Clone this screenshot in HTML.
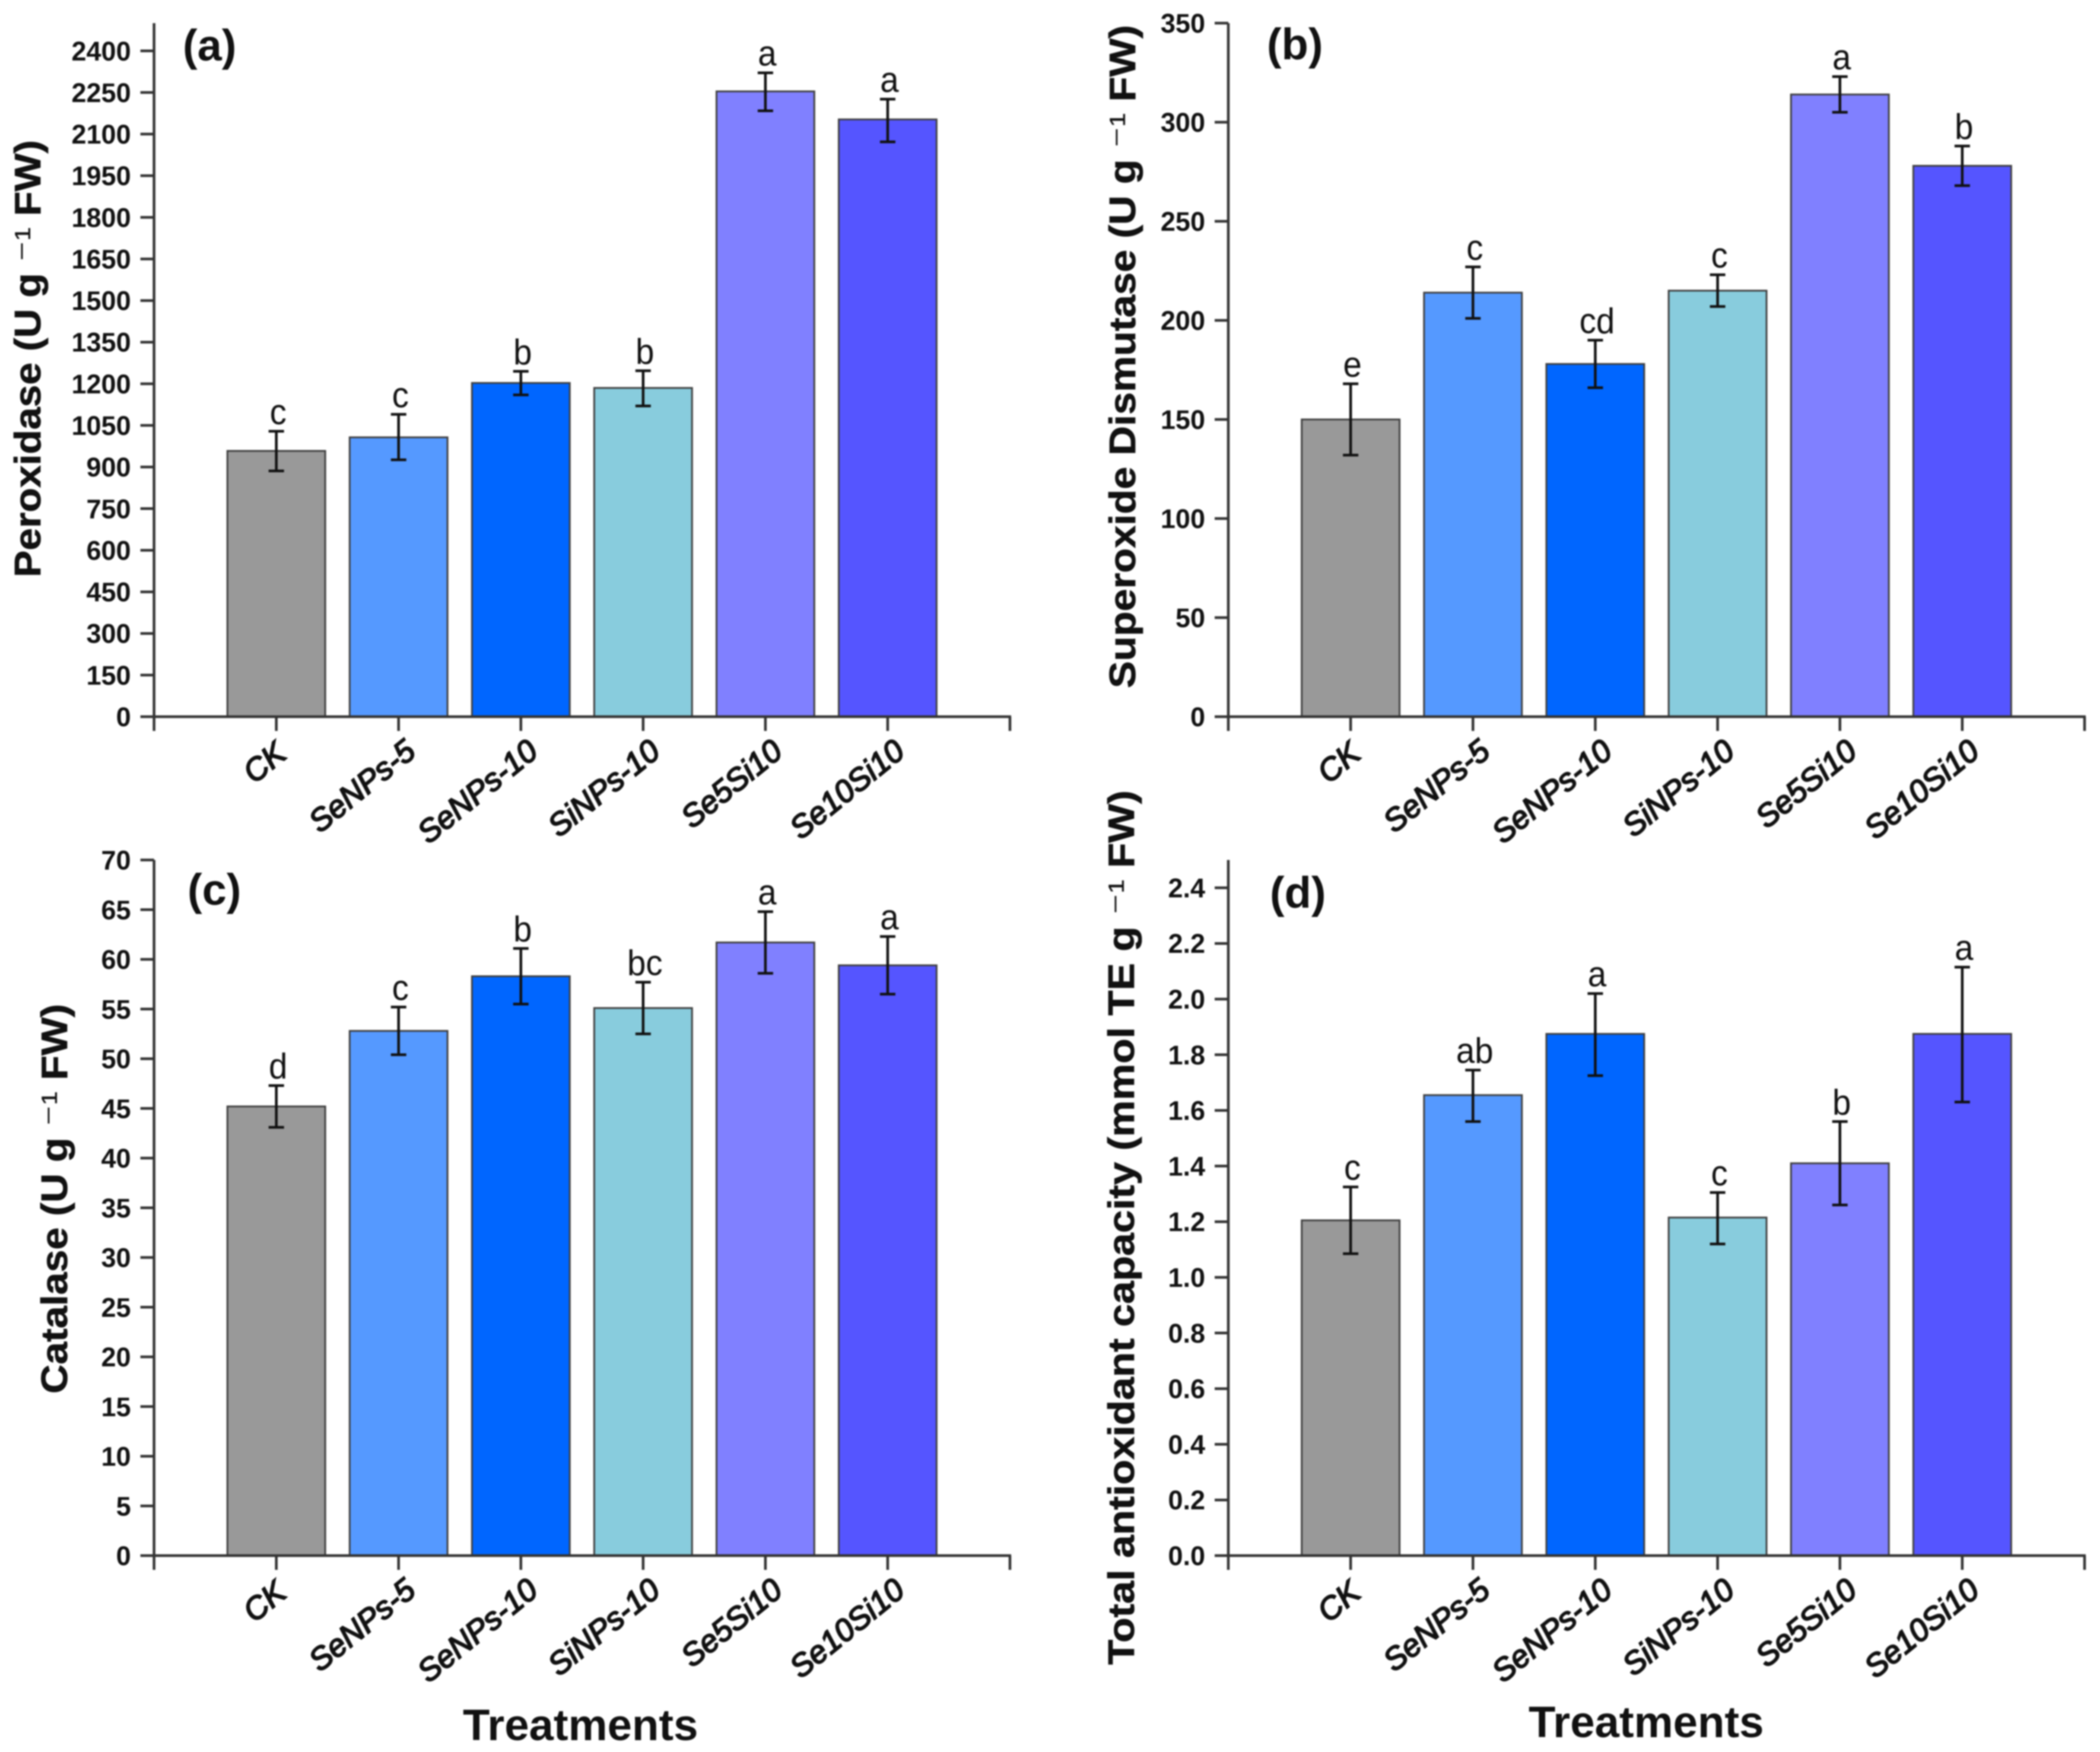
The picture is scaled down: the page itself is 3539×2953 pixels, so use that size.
<!DOCTYPE html>
<html lang="en">
<head>
<meta charset="utf-8">
<title>Antioxidant enzyme activity by treatment</title>
<style>
html,body{margin:0;padding:0;background:#fff;}
svg{display:block;font-family:"Liberation Sans",Arial,sans-serif;}
</style>
</head>
<body>
<svg id="figure" xmlns="http://www.w3.org/2000/svg" width="3539" height="2953" viewBox="0 0 3539 2953">
<rect x="0" y="0" width="3539" height="2953" fill="#ffffff"/>
<g id="root" style="filter:blur(1.2px)"></g>
</svg>
<script>
const categories = ["CK", "SeNPs-5", "SeNPs-10", "SiNPs-10", "Se5Si10", "Se10Si10"];
const barColors = ["#999999", "#5599ff", "#0066ff", "#88ccdd", "#8080ff", "#5555ff"];

const podValues = [958, 1007, 1203, 1185, 2254, 2153];
const podHigh = [1029, 1090, 1245, 1247, 2321, 2226];
const podLow = [886, 926, 1160, 1120, 2184, 2072];
const podLetters = ["c", "c", "b", "b", "a", "a"];
const podTicks = [0, 150, 300, 450, 600, 750, 900, 1050, 1200, 1350, 1500, 1650, 1800, 1950, 2100, 2250, 2400];

const sodValues = [150, 214, 178, 215, 314, 278];
const sodHigh = [168, 227, 190, 223, 323, 288];
const sodLow = [132, 201, 166, 207, 305, 268];
const sodLetters = ["e", "c", "cd", "c", "a", "b"];
const sodTicks = [0, 50, 100, 150, 200, 250, 300, 350];

const catValues = [45.2, 52.8, 58.3, 55.1, 61.7, 59.4];
const catHigh = [47.3, 55.2, 61.1, 57.7, 64.8, 62.3];
const catLow = [43.1, 50.4, 55.5, 52.5, 58.6, 56.5];
const catLetters = ["d", "c", "b", "bc", "a", "a"];
const catTicks = [0, 5, 10, 15, 20, 25, 30, 35, 40, 45, 50, 55, 60, 65, 70];

const taoValues = [1.205, 1.655, 1.875, 1.215, 1.41, 1.875];
const taoHigh = [1.325, 1.745, 2.02, 1.305, 1.56, 2.115];
const taoLow = [1.085, 1.56, 1.725, 1.12, 1.26, 1.63];
const taoLetters = ["c", "ab", "a", "c", "b", "a"];
const taoTicks = ["0.0", "0.2", "0.4", "0.6", "0.8", "1.0", "1.2", "1.4", "1.6", "1.8", "2.0", "2.2", "2.4"];

const SVGNS = "http://www.w3.org/2000/svg";
const root = document.getElementById("root");

function mk(tag, attrs, parent) {
  const el = document.createElementNS(SVGNS, tag);
  for (const k in attrs) el.setAttribute(k, attrs[k]);
  parent.appendChild(el);
  return el;
}

function drawPanel(p) {
  const g = mk("g", {}, root);
  
  

  const n = categories.length;
  const xPos = i => p.left + (p.right - p.left) * (i + 1) / (n + 1);
  const yPos = v => p.base - (v / p.max) * (p.base - p.top);
  const barW = (p.right - p.left) / (n + 1) * 0.8;

  categories.forEach((cat, i) => {
    const bar = mk("rect", {
      x: xPos(i) - barW / 2, y: yPos(p.values[i]), width: barW,
      height: p.base - yPos(p.values[i]), fill: barColors[i],
      stroke: "#404040", "stroke-width": 3
    }, g);
    
    
  });

  const axisY = mk("line", { x1: p.left, x2: p.left, y1: p.top, y2: p.base, stroke: "#333", "stroke-width": 4.5 }, g);
  
  

  const axisX = mk("line", { x1: p.left - 2, x2: p.right + 2, y1: p.base, y2: p.base, stroke: "#333", "stroke-width": 4.5 }, g);
  
  

  [p.left, p.right].forEach(x => {
    const end = mk("line", { x1: x, x2: x, y1: p.base, y2: p.base + 24, stroke: "#333", "stroke-width": 4.5 }, g);
    
    
  });

  p.ticks.forEach(t => {
    const v = parseFloat(t);
    const tick = mk("line", { x1: p.left - 23, x2: p.left, y1: yPos(v), y2: yPos(v), stroke: "#333", "stroke-width": 4.5 }, g);
    
    
    const lab = mk("text", {
      x: p.left - 39, y: yPos(v) + 16, "text-anchor": "end",
      "font-size": 45, "font-weight": "bold", fill: "#111"
    }, g);
    lab.textContent = String(t);
    
    
  });

  categories.forEach((cat, i) => {
    const x = xPos(i);
    const tick = mk("line", { x1: x, x2: x, y1: p.base, y2: p.base + 24, stroke: "#333", "stroke-width": 4.5 }, g);
    
    

    const shortShift = cat.length < 3 ? -12 : 0;
    const lab = mk("text", {
      transform: "translate(" + (x + 32 + shortShift) + " " + (p.base + 64 - shortShift / 3) + ") rotate(-39)",
      "text-anchor": "end", "font-size": 53, "font-style": "italic",
      fill: "#111", stroke: "#111", "stroke-width": 2.2
    }, g);
    lab.textContent = cat;
    
    

    const hi = yPos(p.high[i]);
    const lo = yPos(p.low[i]);
    const stem = mk("line", { x1: x, x2: x, y1: hi, y2: lo, stroke: "#111", "stroke-width": 4.5 }, g);
    
    
    [hi, lo].forEach(y => {
      const cap = mk("line", { x1: x - 13, x2: x + 13, y1: y, y2: y, stroke: "#111", "stroke-width": 4.5 }, g);
      
      
    });

    const sig = mk("text", {
      transform: "translate(" + (x + 3) + " " + (hi - 12) + ") scale(0.94 1)",
      "text-anchor": "middle", "font-size": 60, fill: "#111"
    }, g);
    sig.textContent = p.letters[i];
    
    
  });

  const title = mk("text", {
    transform: "translate(" + p.titleX + " " + p.titleBottom + ") rotate(-90)",
    "font-size": 62, "font-weight": "bold", fill: "#111", stroke: "#111", "stroke-width": 0.8,
    textLength: p.titleLen, lengthAdjust: "spacingAndGlyphs"
  }, g);
  const tHead = mk("tspan", {}, title);
  tHead.textContent = p.titleHead + " ";
  const tSup = mk("tspan", { "font-weight": "normal", "stroke-width": 0 }, title);
  tSup.textContent = "\u207B\u00B9";
  const tTail = mk("tspan", {}, title);
  tTail.textContent = " " + p.titleTail;
  
  

  const letter = mk("text", {
    x: p.tagX, y: p.tagY, "font-size": 74, "font-weight": "bold", fill: "#111"
  }, g);
  letter.textContent = "(" + p.id + ")";
  
  

  if (p.xTitleX !== undefined) {
    const xt = mk("text", {
      x: p.xTitleX, y: p.xTitleY, "font-size": 74.3, "font-weight": "bold", fill: "#111"
    }, g);
    xt.textContent = "Treatments";
    
    
  }
}

drawPanel({
  id: "a", left: 259.6, right: 1702, top: 39, base: 1208, max: 2500,
  values: podValues, high: podHigh, low: podLow, letters: podLetters, ticks: podTicks,
  titleHead: "Peroxidase (U g", titleTail: "FW)", titleX: 68, titleBottom: 973, titleLen: 737,
  tagX: 308, tagY: 102
});
drawPanel({
  id: "b", left: 2070, right: 3513, top: 39, base: 1208, max: 350,
  values: sodValues, high: sodHigh, low: sodLow, letters: sodLetters, ticks: sodTicks,
  titleHead: "Superoxide Dismutase (U g", titleTail: "FW)", titleX: 1913, titleBottom: 1160, titleLen: 1118,
  tagX: 2135, tagY: 100
});
drawPanel({
  id: "c", left: 259.6, right: 1702, top: 1449.5, base: 2622, max: 70,
  values: catValues, high: catHigh, low: catLow, letters: catLetters, ticks: catTicks,
  titleHead: "Catalase (U g", titleTail: "FW)", titleX: 113, titleBottom: 2349, titleLen: 657,
  tagX: 316, tagY: 1525, xTitleX: 780, xTitleY: 2933
});
drawPanel({
  id: "d", left: 2070, right: 3513, top: 1449.5, base: 2622, max: 2.5,
  values: taoValues, high: taoHigh, low: taoLow, letters: taoLetters, ticks: taoTicks,
  titleHead: "Total antioxidant capacity (mmol TE g", titleTail: "FW)", titleX: 1911, titleBottom: 2806, titleLen: 1474,
  tagX: 2140, tagY: 1530, xTitleX: 2576, xTitleY: 2928
});
</script>
</body>
</html>
